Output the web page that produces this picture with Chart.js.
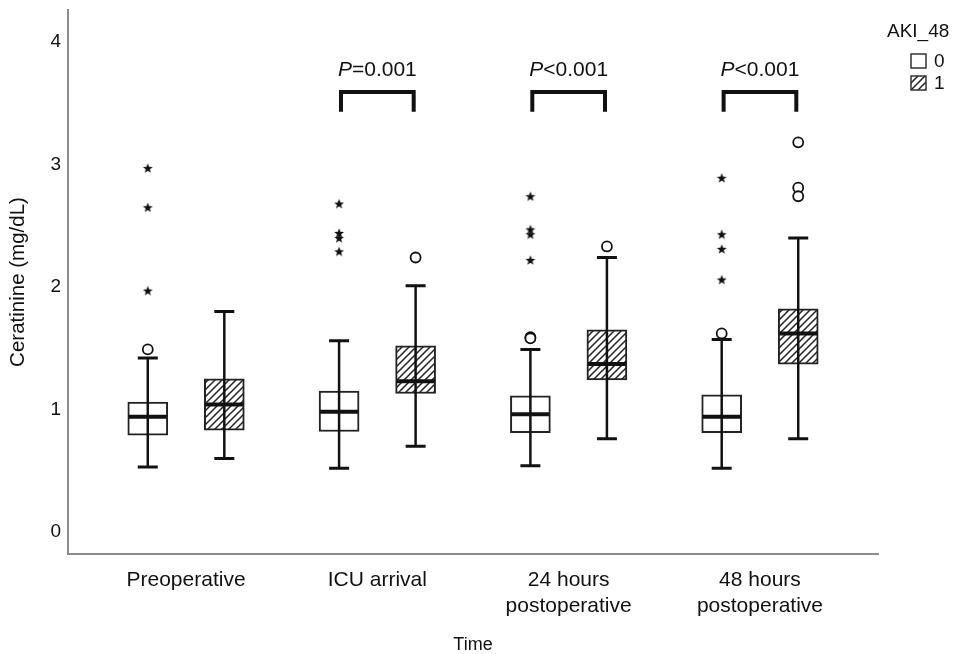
<!DOCTYPE html>
<html>
<head>
<meta charset="utf-8">
<script src="https://cdn.jsdelivr.net/npm/chart.js@4.4.1/dist/chart.umd.min.js"></script>
<style>
  html, body { margin: 0; padding: 0; background: #fff; }
</style>
</head>
<body>
<canvas id="grafica" width="960" height="654"></canvas>
<script>
const categories = ["Preoperative", "ICU arrival", ["24 hours", "postoperative"], ["48 hours", "postoperative"]];
const yTicks = [0, 1, 2, 3, 4];
const groupNames = ["0", "1"];

// AKI_48 = 0
const min0 = [0.53, 0.52, 0.54, 0.52];
const q1_0 = [0.79, 0.82, 0.81, 0.81];
const med0 = [0.94, 0.98, 0.96, 0.94];
const q3_0 = [1.06, 1.15, 1.11, 1.12];
const max0 = [1.42, 1.56, 1.49, 1.57];
const circles0 = [[1.49], [], [1.59, 1.58], [1.62]];
const stars0 = [[2.97, 2.65, 1.97], [2.68, 2.44, 2.40, 2.29], [2.74, 2.47, 2.43, 2.22], [2.89, 2.43, 2.31, 2.06]];

// AKI_48 = 1
const min1 = [0.60, 0.70, 0.76, 0.76];
const q1_1 = [0.83, 1.13, 1.24, 1.37];
const med1 = [1.04, 1.23, 1.37, 1.62];
const q3_1 = [1.25, 1.52, 1.65, 1.82];
const max1 = [1.80, 2.01, 2.24, 2.40];
const circles1 = [[], [2.24], [2.33], [3.18, 2.81, 2.74]];

// comparaciones entre grupos
const pTexts = [null, "=0.001", "<0.001", "<0.001"];

const FONT = "'Liberation Sans', Arial, sans-serif";
const INK = "#111";
const OFF = 0.2; // separacion de las cajas dentro de cada categoria

const ctxMain = document.getElementById("grafica").getContext("2d");

function crearRayado() {
  const s = 7;
  const c = document.createElement("canvas");
  c.width = s;
  c.height = s;
  const g = c.getContext("2d");
  g.fillStyle = "#fff";
  g.fillRect(0, 0, s, s);
  g.strokeStyle = "#222";
  g.lineWidth = 1.5;
  g.beginPath();
  g.moveTo(-1, s + 1); g.lineTo(s + 1, -1);
  g.moveTo(-1, 1); g.lineTo(1, -1);
  g.moveTo(s - 1, s + 1); g.lineTo(s + 1, s - 1);
  g.stroke();
  return ctxMain.createPattern(c, "repeat");
}

function crearEstrella() {
  const c = document.createElement("canvas");
  c.width = 12;
  c.height = 12;
  const g = c.getContext("2d");
  g.fillStyle = INK;
  g.beginPath();
  for (let k = 0; k < 10; k++) {
    const r = k % 2 ? 2.2 : 5.2;
    const a = -Math.PI / 2 + (k * Math.PI) / 5;
    g.lineTo(6 + r * Math.cos(a), 6.5 + r * Math.sin(a));
  }
  g.closePath();
  g.fill();
  return c;
}

const rayado = crearRayado();
const estrella = crearEstrella();

function cajas(q1, q3, off) {
  return q1.map((v, i) => ({ x: i + 1 + off, y: [v, q3[i]] }));
}

function puntos(listas, off) {
  const out = [];
  listas.forEach((l, i) => l.forEach((v) => out.push({ x: i + 1 + off, y: v })));
  return out;
}

// bigotes, topes y medianas
const bigotes = {
  id: "bigotes",
  afterDatasetsDraw(chart) {
    const { ctx, scales } = chart;
    const grupos = [
      [min0, med0, max0, -OFF],
      [min1, med1, max1, OFF],
    ];
    ctx.save();
    ctx.strokeStyle = INK;
    ctx.lineCap = "butt";
    grupos.forEach(([mn, md, mx, off]) => {
      mn.forEach((v, i) => {
        const cx = scales.x.getPixelForValue(i + 1 + off);
        const yMin = scales.y.getPixelForValue(v);
        const yMax = scales.y.getPixelForValue(mx[i]);
        const yMed = scales.y.getPixelForValue(md[i]);
        ctx.lineWidth = 2.5;
        ctx.beginPath();
        ctx.moveTo(cx, yMin);
        ctx.lineTo(cx, yMax);
        ctx.stroke();
        ctx.lineWidth = 3;
        ctx.beginPath();
        ctx.moveTo(cx - 10, yMin);
        ctx.lineTo(cx + 10, yMin);
        ctx.moveTo(cx - 10, yMax);
        ctx.lineTo(cx + 10, yMax);
        ctx.stroke();
        ctx.lineWidth = 4;
        ctx.beginPath();
        ctx.moveTo(cx - 19, yMed);
        ctx.lineTo(cx + 19, yMed);
        ctx.stroke();
      });
    });
    ctx.restore();
  },
};

// corchetes con el valor P
const BRACKET_TOP = 3.59;
const BRACKET_END = 3.43;
const P_LEVEL = 3.765;

const anotaciones = {
  id: "anotaciones",
  afterDraw(chart) {
    const { ctx, scales } = chart;
    ctx.save();
    ctx.strokeStyle = INK;
    ctx.fillStyle = INK;
    ctx.textBaseline = "middle";
    pTexts.forEach((t, i) => {
      if (!t) return;
      const x1 = scales.x.getPixelForValue(i + 1 - 0.19);
      const x2 = scales.x.getPixelForValue(i + 1 + 0.19);
      const yT = scales.y.getPixelForValue(BRACKET_TOP);
      const yE = scales.y.getPixelForValue(BRACKET_END);
      ctx.lineWidth = 4;
      ctx.lineJoin = "miter";
      ctx.beginPath();
      ctx.moveTo(x1, yE);
      ctx.lineTo(x1, yT);
      ctx.lineTo(x2, yT);
      ctx.lineTo(x2, yE);
      ctx.stroke();

      const cx = scales.x.getPixelForValue(i + 1);
      const yP = scales.y.getPixelForValue(P_LEVEL);
      ctx.font = "italic 21px " + FONT;
      const wP = ctx.measureText("P").width;
      ctx.font = "21px " + FONT;
      const wR = ctx.measureText(t).width;
      const x0 = cx - (wP + wR) / 2;
      ctx.textAlign = "left";
      ctx.font = "italic 21px " + FONT;
      ctx.fillText("P", x0, yP);
      ctx.font = "21px " + FONT;
      ctx.fillText(t, x0 + wP, yP);
    });

    // leyenda AKI_48
    ctx.font = "19px " + FONT;
    ctx.textAlign = "left";
    ctx.fillText("AKI_48", 887, 32);
    const fills = ["#fff", rayado];
    groupNames.forEach((n, k) => {
      const y0 = 54 + k * 22;
      ctx.fillStyle = fills[k];
      ctx.fillRect(911, y0, 15, 14);
      ctx.lineWidth = 1.5;
      ctx.strokeStyle = "#333";
      ctx.strokeRect(911, y0, 15, 14);
      ctx.fillStyle = INK;
      ctx.fillText(n, 934, y0 + 8);
    });
    ctx.restore();
  },
};

new Chart(ctxMain, {
  type: "bar",
  data: {
    datasets: [
      {
        label: groupNames[0],
        data: cajas(q1_0, q3_0, -OFF),
        backgroundColor: "#fff",
        borderColor: "#222",
        borderWidth: 2,
        borderSkipped: false,
        barThickness: 40,
        grouped: false,
      },
      {
        label: groupNames[1],
        data: cajas(q1_1, q3_1, OFF),
        backgroundColor: rayado,
        borderColor: "#222",
        borderWidth: 2,
        borderSkipped: false,
        barThickness: 40,
        grouped: false,
      },
      {
        type: "scatter",
        label: "extremos 0",
        data: puntos(stars0, -OFF),
        pointStyle: estrella,
      },
      {
        type: "scatter",
        label: "atipicos 0",
        data: puntos(circles0, -OFF),
        pointStyle: "circle",
        pointRadius: 5,
        borderWidth: 1.8,
        borderColor: INK,
        backgroundColor: "#fff",
      },
      {
        type: "scatter",
        label: "atipicos 1",
        data: puntos(circles1, OFF),
        pointStyle: "circle",
        pointRadius: 5,
        borderWidth: 1.8,
        borderColor: INK,
        backgroundColor: "#fff",
      },
    ],
  },
  options: {
    responsive: false,
    animation: false,
    devicePixelRatio: 1,
    layout: { padding: { top: 10, right: 82, left: 0, bottom: 0 } },
    plugins: {
      legend: { display: false },
      tooltip: { enabled: false },
    },
    scales: {
      x: {
        type: "linear",
        offset: false,
        min: 0.383,
        max: 4.617,
        afterBuildTicks: (s) => {
          s.ticks = categories.map((c, i) => ({ value: i + 1 }));
        },
        afterFit: (s) => {
          s.height = 100;
          s.paddingLeft = 0;
          s.paddingRight = 0;
        },
        grid: { display: false, drawTicks: false, offset: false },
        border: { color: "#8c8c8c", width: 2 },
        ticks: {
          autoSkip: false,
          maxRotation: 0,
          padding: 13,
          color: INK,
          font: { family: FONT, size: 21, lineHeight: 1.25 },
          callback: (v) => categories[v - 1],
        },
        title: {
          display: true,
          text: "Time",
          color: INK,
          font: { family: FONT, size: 18, lineHeight: 1.0 },
          padding: { top: 0, bottom: 0 },
        },
      },
      y: {
        min: -0.18,
        max: 4.26,
        afterBuildTicks: (s) => {
          s.ticks = yTicks.map((v) => ({ value: v }));
        },
        afterFit: (s) => {
          s.width = 68;
          s.paddingTop = 0;
          s.paddingBottom = 0;
        },
        grid: { display: false, drawTicks: false },
        border: { color: "#8c8c8c", width: 2 },
        ticks: {
          padding: 7,
          color: INK,
          font: { family: FONT, size: 19 },
        },
        title: {
          display: true,
          text: "Ceratinine (mg/dL)",
          color: INK,
          font: { family: FONT, size: 20.5 },
          padding: { top: 6, bottom: 0 },
        },
      },
    },
  },
  plugins: [bigotes, anotaciones],
});
</script>
</body>
</html>
